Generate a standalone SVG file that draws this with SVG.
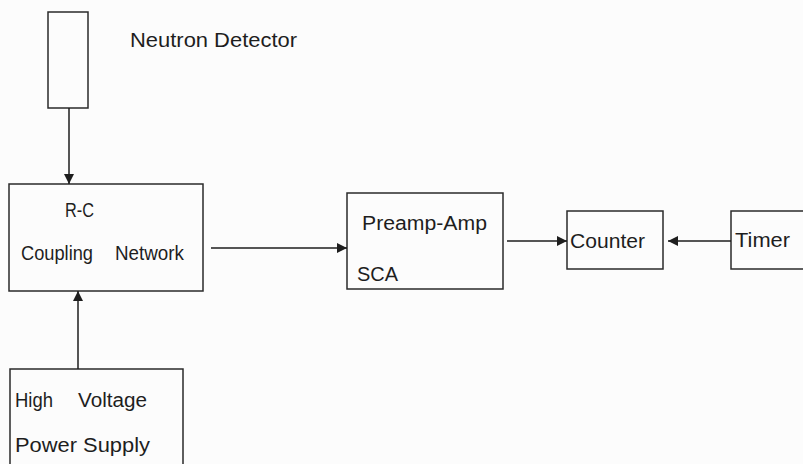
<svg xmlns="http://www.w3.org/2000/svg" width="803" height="464" viewBox="0 0 803 464">
  <style>
    .box { fill: none; stroke: #2a2a2a; stroke-width: 1.5; }
    .conn { fill: none; stroke: #1e1e1e; stroke-width: 1.5; }
    text { font-family: "Liberation Sans", Arial, sans-serif; font-size: 20px; fill: #1e1e1e; }
  </style>
  <defs>
    <marker id="arrow" viewBox="0 0 10 10" refX="10" refY="5" markerWidth="11" markerHeight="10" markerUnits="userSpaceOnUse" orient="auto">
      <path d="M0,0 L10,5 L0,10 Z" fill="#1e1e1e"/>
    </marker>
  </defs>
  <rect width="803" height="464" fill="#fcfcfc"/>

  <g id="detector">
    <rect class="box" x="48" y="12" width="40" height="96"/>
    <text x="130" y="47" textLength="167" lengthAdjust="spacingAndGlyphs">Neutron Detector</text>
  </g>

  <g id="rc-network">
    <rect class="box" x="9" y="184" width="194" height="107"/>
    <text x="65" y="217" textLength="29" lengthAdjust="spacingAndGlyphs">R-C</text>
    <text x="21" y="260" textLength="72" lengthAdjust="spacingAndGlyphs">Coupling</text>
    <text x="115" y="260" textLength="69" lengthAdjust="spacingAndGlyphs">Network</text>
  </g>

  <g id="preamp">
    <rect class="box" x="347" y="193" width="156" height="96"/>
    <text x="362" y="230" textLength="125" lengthAdjust="spacingAndGlyphs">Preamp-Amp</text>
    <text x="357" y="281" textLength="41" lengthAdjust="spacingAndGlyphs">SCA</text>
  </g>

  <g id="counter">
    <rect class="box" x="567" y="211" width="96" height="58"/>
    <text x="570" y="248" textLength="75" lengthAdjust="spacingAndGlyphs">Counter</text>
  </g>

  <g id="timer">
    <rect class="box" x="731" y="211" width="90" height="58"/>
    <text x="735" y="247" textLength="55" lengthAdjust="spacingAndGlyphs">Timer</text>
  </g>

  <g id="hv-supply">
    <rect class="box" x="10" y="369" width="173" height="110"/>
    <text x="15" y="407" textLength="38" lengthAdjust="spacingAndGlyphs">High</text>
    <text x="78" y="407" textLength="69" lengthAdjust="spacingAndGlyphs">Voltage</text>
    <text x="15" y="452" textLength="135" lengthAdjust="spacingAndGlyphs">Power Supply</text>
  </g>

  <g id="connectors">
    <line class="conn" x1="69" y1="108" x2="69" y2="184" marker-end="url(#arrow)"/>
    <line class="conn" x1="211" y1="248" x2="347" y2="248" marker-end="url(#arrow)"/>
    <line class="conn" x1="507" y1="241" x2="567" y2="241" marker-end="url(#arrow)"/>
    <line class="conn" x1="731" y1="241" x2="668" y2="241" marker-end="url(#arrow)"/>
    <line class="conn" x1="78" y1="369" x2="78" y2="291" marker-end="url(#arrow)"/>
  </g>
</svg>
